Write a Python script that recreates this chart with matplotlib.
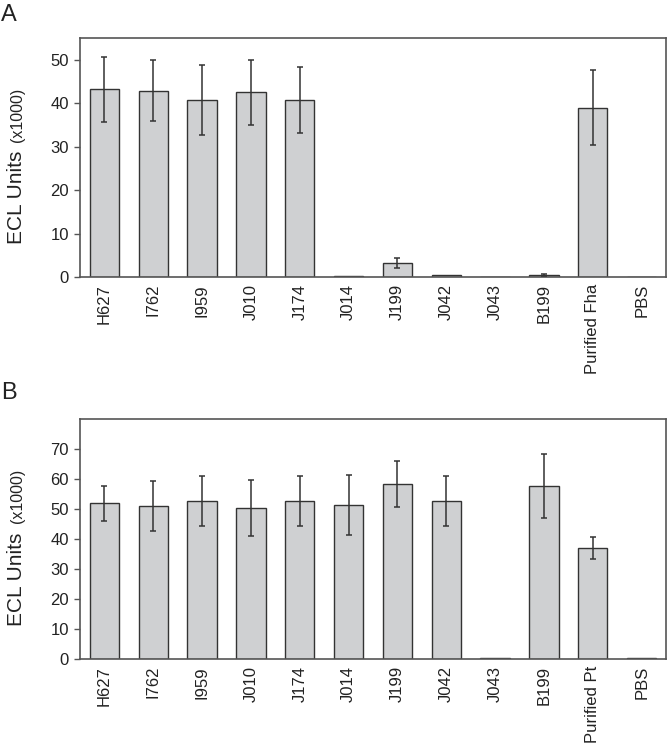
import numpy as np
import matplotlib.pyplot as plt

plt.rcParams['font.family'] = ['Liberation Sans', 'DejaVu Sans']

# Panel A data (ECL units x1000)
labels_a = ['H627', 'I762', 'I959', 'J010', 'J174', 'J014', 'J199',
            'J042', 'J043', 'B199', 'Purified Fha', 'PBS']
means_a = [43.2, 42.9, 40.7, 42.5, 40.7, 0.2, 3.2, 0.4, 0.1, 0.5, 39.0, 0.1]
errs_a = [7.5, 7.0, 8.0, 7.5, 7.6, 0.0, 1.1, 0.0, 0.0, 0.25, 8.7, 0.0]

# Panel B data
labels_b = ['H627', 'I762', 'I959', 'J010', 'J174', 'J014', 'J199',
            'J042', 'J043', 'B199', 'Purified Pt', 'PBS']
means_b = [51.9, 51.1, 52.8, 50.3, 52.7, 51.4, 58.4, 52.8, 0.3, 57.7, 37.0, 0.3]
errs_b = [5.8, 8.3, 8.3, 9.3, 8.3, 9.9, 7.7, 8.3, 0.0, 10.7, 3.7, 0.0]

bar_color = '#cfd0d2'
edge_color = '#333333'
spine_color = '#555555'
text_color = '#222222'


def draw_panel(ax, labels, means, errs, ymax, yticks):
    x = np.arange(len(labels))
    ax.bar(x, means, width=0.6, color=bar_color, edgecolor=edge_color,
           linewidth=1.0, zorder=2)
    errs = np.array(errs)
    mask = errs > 0
    ax.errorbar(x[mask], np.array(means)[mask], yerr=errs[mask], fmt='none',
                ecolor=edge_color, elinewidth=1.1, capsize=2.5,
                capthick=1.1, zorder=3)
    ax.set_xlim(-0.5, len(labels) - 0.5)
    ax.set_ylim(0, ymax)
    ax.set_yticks(yticks)
    ax.set_xticks(x)
    ax.set_xticklabels(labels, rotation=90, fontsize=12, color=text_color)
    ax.tick_params(axis='x', length=0, pad=5)
    ax.tick_params(axis='y', length=4, width=1.0, color=spine_color,
                   labelsize=12, labelcolor=text_color, pad=4)
    for s in ax.spines.values():
        s.set_color(spine_color)
        s.set_linewidth(1.2)
    # y label: "ECL Units" with a smaller "(x1000)"
    ax.text(-0.099, 0.333, 'ECL Units', transform=ax.transAxes, rotation=90,
            rotation_mode='anchor', ha='center', va='baseline', fontsize=15,
            color=text_color)
    ax.text(-0.099, 0.678, '(x1000)', transform=ax.transAxes, rotation=90,
            rotation_mode='anchor', ha='center', va='baseline', fontsize=11.5,
            color=text_color)


fig = plt.figure(figsize=(6.67, 7.46), dpi=100)
ax_a = fig.add_axes([0.12, 0.6287, 0.8786, 0.3204])
ax_b = fig.add_axes([0.12, 0.1166, 0.8786, 0.3217])

draw_panel(ax_a, labels_a, means_a, errs_a, 55, [0, 10, 20, 30, 40, 50])
draw_panel(ax_b, labels_b, means_b, errs_b, 80, [0, 10, 20, 30, 40, 50, 60, 70])

fig.text(0.002, 0.98, 'A', fontsize=17, ha='left', va='center', color=text_color)
fig.text(0.002, 0.473, 'B', fontsize=17, ha='left', va='center', color=text_color)

fig.savefig('out.png', dpi=100)
